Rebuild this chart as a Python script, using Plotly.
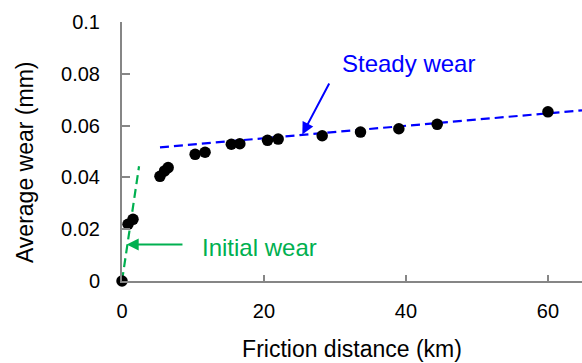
import plotly.graph_objects as go

distance_km = [0, 0.85, 1.55, 5.35, 6.0, 6.5, 10.3, 11.7, 15.4, 16.6, 20.5, 22.0, 28.2, 33.6, 39.0, 44.4, 60.0]
wear_mm = [0, 0.0219, 0.0238, 0.0404, 0.0425, 0.0438, 0.0489, 0.0497, 0.0528, 0.0530, 0.0543, 0.0548, 0.0561, 0.0575, 0.0588, 0.0605, 0.0653]

initial_x = [0, 2.4]
initial_y = [0, 0.0443]
steady_x = [5.35, 64.8]
steady_y = [0.0516, 0.0659]

x_ticks = [0, 20, 40, 60]
y_ticks = [0, 0.02, 0.04, 0.06, 0.08, 0.1]
y_tick_text = ["0", "0.02", "0.04", "0.06", "0.08", "0.1"]

GREEN = "#00b050"
BLUE = "#0000ff"
AXIS = "#868686"
FONT = "Liberation Sans, Arial, sans-serif"

fig = go.Figure()
fig.add_trace(go.Scatter(x=initial_x, y=initial_y, mode="lines",
                         line=dict(color=GREEN, width=2.2, dash="9px,5px"),
                         cliponaxis=False, showlegend=False))
fig.add_trace(go.Scatter(x=steady_x, y=steady_y, mode="lines",
                         line=dict(color=BLUE, width=2.2, dash="9px,5px"),
                         cliponaxis=False, showlegend=False))
fig.add_trace(go.Scatter(x=distance_km, y=wear_mm, mode="markers",
                         marker=dict(color="black", size=11.5),
                         cliponaxis=False, showlegend=False))

fig.add_annotation(x=25.4, y=0.0566, ax=29.3, ay=0.0768, axref="x", ayref="y",
                   text="", showarrow=True, arrowhead=2, arrowsize=1.2,
                   arrowwidth=2, arrowcolor=BLUE)
fig.add_annotation(x=40.3, y=0.0841, text="Steady wear", showarrow=False,
                   font=dict(family=FONT, size=24, color=BLUE))
fig.add_annotation(x=0.66, y=0.01405, ax=8.73, ay=0.01405, axref="x", ayref="y",
                   text="", showarrow=True, arrowhead=2, arrowsize=1.2,
                   arrowwidth=2, arrowcolor=GREEN)
fig.add_annotation(x=11.0, y=0.0131, text="Initial wear", showarrow=False,
                   xanchor="left", font=dict(family=FONT, size=24, color=GREEN))
# y-axis title (placed as annotation to match reference's vertical offset)
fig.add_annotation(xref="paper", yref="paper", x=-0.211, y=0.459,
                   xanchor="center", yanchor="middle",
                   text="Average wear (mm)", textangle=-90, showarrow=False,
                   font=dict(family=FONT, size=23, color="black"))

fig.update_layout(
    width=582, height=363,
    margin=dict(l=122, r=0, t=22, b=82),
    paper_bgcolor="white", plot_bgcolor="white",
    font=dict(family=FONT, size=20, color="black"),
    xaxis=dict(range=[0, 64.8], tickvals=x_ticks, showgrid=False, zeroline=False,
               showline=True, linecolor=AXIS, linewidth=2,
               ticks="inside", ticklen=6, tickcolor=AXIS, tickwidth=1.5,
               ticklabelstandoff=11,
               title=dict(text="Friction distance (km)", font=dict(size=23), standoff=20)),
    yaxis=dict(range=[0, 0.1], tickvals=y_ticks, ticktext=y_tick_text,
               showgrid=False, zeroline=False,
               showline=True, linecolor=AXIS, linewidth=2,
               ticks="inside", ticklen=8, tickcolor=AXIS, tickwidth=1.5,
               ticklabelstandoff=16),
)

fig.write_html("out.html")
